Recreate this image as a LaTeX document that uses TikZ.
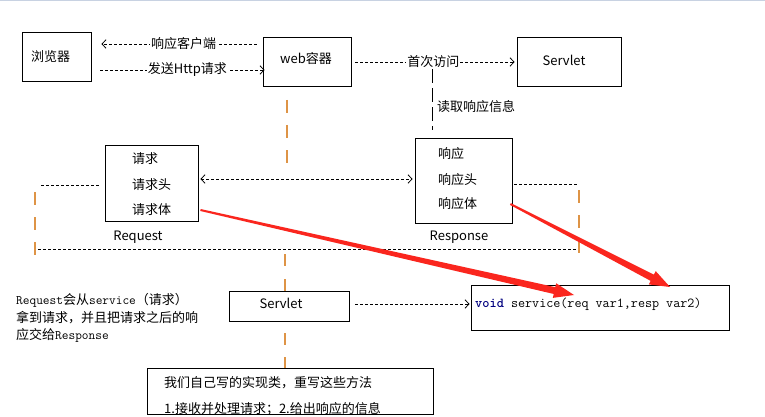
\documentclass[tikz,border=0pt]{standalone}
\usepackage{fontspec}
\setmainfont{Noto Sans CJK SC}
\usetikzlibrary{arrows.meta,calc}
\definecolor{orangedash}{RGB}{222,148,70}
\definecolor{redarr}{RGB}{250,38,30}
\definecolor{navyblue}{RGB}{0,0,128}
\definecolor{topline}{RGB}{200,210,226}
\newcommand\mytt[1]{{\ttfamily\fontsize{13}{17.3}\selectfont #1}}
\newcommand\redarrow[2]{%
  \coordinate (rh) at ($(#2)!20pt!(#1)$);
  \fill[redarr] ($(#1)!1pt!90:(#2)$) -- ($(rh)!3.5pt!90:(#2)$) -- ($(rh)!7.5pt!90:(#2)$) -- (#2)
     -- ($(rh)!7.5pt!-90:(#2)$) -- ($(rh)!3.5pt!-90:(#2)$) -- ($(#1)!1pt!-90:(#2)$) -- cycle;}
\begin{document}
\begin{tikzpicture}[x=1pt,y=-1pt,
  box/.style={draw, line width=0.9pt, inner sep=0pt},
  txt/.style={inner sep=0pt, font=\fontsize{13}{15}\selectfont},
  lbl/.style={txt, fill=white, inner xsep=1pt, inner ysep=1pt},
  blkdash/.style={line width=0.8pt, dash pattern=on 3pt off 2pt},
  longdash/.style={line width=0.8pt, dash pattern=on 14pt off 5pt},
  chev/.style={-{Straight Barb[length=4pt,width=8.5pt,line width=0.8pt]}},
  chevboth/.style={{Straight Barb[length=4pt,width=8.5pt,line width=0.8pt]}-{Straight Barb[length=4pt,width=8.5pt,line width=0.8pt]}},
  orng/.style={draw=orangedash, line width=1.6pt, dash pattern=on 13pt off 12pt}]
\useasboundingbox (0,0) rectangle (765,417);
\fill[white] (0,0) rectangle (765,417);
\fill[topline] (0,0) rectangle (765,1.5);

% top row
\node[box, minimum width=69pt, minimum height=49pt] (browser) at (56.5,56.5) {};
\node[txt, anchor=west] (browsertxt) at (31,57) {浏览器};
\node[box, minimum width=88pt, minimum height=49pt] (web) at (307,61.5) {};
\node[txt] (webtxt) at (306,59) {web容器};
\node[box, minimum width=104pt, minimum height=49pt] (servlet1) at (569,61.5) {};
\node[txt] (servlet1txt) at (564,60) {Servlet};

\draw[blkdash, chev] ($(web.west|-0,44)+(-6,0)$) -- ($(browser.east|-0,44)+(10,0)$)
  node[lbl, pos=0.47] (respcl) {响应客户端};
\draw[blkdash, chev] ($(browser.east|-0,70)+(9,0)$) -- ($(web.west|-0,70)+(2,0)$)
  node[lbl, pos=0.53] (sendreq) {发送Http请求};
\draw[blkdash, chev] ($(web.east|-0,62)+(4,0)$) -- ($(servlet1.west|-0,62)+(-2,0)$)
  node[lbl, pos=0.49] (first) {首次访问};

% Request / Response
\node[box, minimum width=93pt, minimum height=76pt] (reqbox) at (151.5,183) {};
\node[txt, anchor=west] (qt) at (132,159) {请求};
\node[txt, anchor=west] (qtt) at (132,185) {请求头};
\node[txt, anchor=west] (qtb) at (132,210) {请求体};
\node[txt] (reqlbl) at (138,237) {Request};

\node[box, minimum width=97pt, minimum height=85pt] (respbox) at (463.5,180.5) {};
\node[txt, anchor=west] (xy) at (438,154) {响应};
\node[txt, anchor=west] (xyt) at (438,180) {响应头};
\node[txt, anchor=west] (xyb) at (438,204) {响应体};
\node[txt] (resplbl) at (459,237) {Response};

\draw[longdash] (first.south -| 432,0) -- ($(respbox.north -| 432,0)+(0,-8)$);
\node[txt, anchor=west] (readinfo) at (437,107) {读取响应信息};

\draw[blkdash, chevboth] ($(reqbox.east|-0,179)+(2,0)$) -- ($(respbox.west|-0,179)+(-2,0)$);

% envelope
\draw[blkdash] (41,185) -- ($(reqbox.west|-0,185)+(-6,0)$);
\draw[orng] (35,192) -- (35,256);
\draw[blkdash] (38,249) -- (577,249);
\draw[blkdash] ($(respbox.east|-0,184)+(2,0)$) -- (578,184);
\draw[orng] (579,190) -- (579,253);
\draw[orng] (287,100) -- (287,163);

% lower part
\node[box, minimum width=120pt, minimum height=30pt] (servlet2) at (289,306) {};
\node[txt] (servlet2txt) at (281,303) {Servlet};
\node[box, minimum width=258pt, minimum height=45pt] (voidbox) at (600,307.5) {};
\node[inner sep=0pt, anchor=west] (voidtxt) at (475,304)
  {\ttfamily\fontsize{13.7}{15}\selectfont{\bfseries\color{navyblue}void} service(req var1,resp var2)};
\draw[blkdash, chev] ($(servlet2.east|-0,304)+(6,0)$) -- ($(voidbox.west|-0,304)+(-1,0)$);

\node[box, minimum width=286pt, minimum height=46pt] (bottombox) at (290,391) {};
\node[txt, anchor=west] (impl1) at (164,383) {我们自己写的实现类，重写这些方法};
\node[txt, anchor=west] (impl2) at (164,409) {1.接收并处理请求；2.给出响应的信息};

\draw[orng, dash pattern=on 12pt off 13pt] (servlet2.north -| 285,0) -- (285,253);
\draw[orng, dash pattern=on 12pt off 12pt] (285,333) -- (bottombox.north -| 285,0);

\node[inner sep=0pt, anchor=west, align=left, font=\fontsize{13}{17.3}\selectfont] (note) at (16,318)
  {\mytt{Request}会从\mytt{service}（请求）\\拿到请求，并且把请求之后的响\\应交给\mytt{Response}};

% red arrows
\coordinate (r1s) at ($(reqbox.east|-qtb)+(2,0)$);
\coordinate (r1t) at (574,295);
\coordinate (r2s) at ($(respbox.east|-xyb)+(-2,0)$);
\coordinate (r2t) at (670,287);
\redarrow{r1s}{r1t}
\redarrow{r2s}{r2t}
\end{tikzpicture}
\end{document}
